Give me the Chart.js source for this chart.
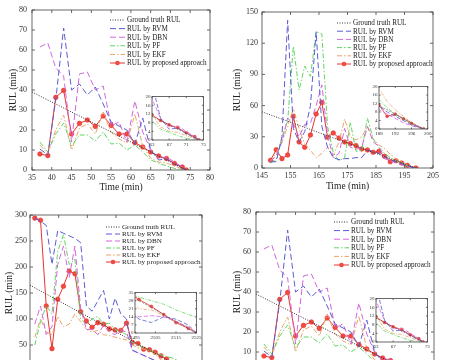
<!DOCTYPE html>
<html>
<head>
<meta charset="utf-8">
<script src="https://cdn.jsdelivr.net/npm/chart.js@4.4.1/dist/chart.umd.min.js"></script>
<style>
html, body { margin: 0; padding: 0; background: #fff; overflow: hidden; }
body { width: 452px; height: 360px; position: relative; }
.box { position: absolute; }
</style>
</head>
<body>
<div class="box" style="left:0;top:0;width:226px;height:196px"><canvas id="chartA"></canvas></div>
<div class="box" style="left:226px;top:0;width:226px;height:196px"><canvas id="chartB"></canvas></div>
<div class="box" style="left:0;top:200px;width:226px;height:196px"><canvas id="chartC"></canvas></div>
<div class="box" style="left:224px;top:202px;width:226px;height:196px"><canvas id="chartD"></canvas></div>
<div class="box" style="left:138px;top:92px;width:70px;height:58px"><canvas id="insetA"></canvas></div>
<div class="box" style="left:365px;top:82px;width:68px;height:57px"><canvas id="insetB"></canvas></div>
<div class="box" style="left:120px;top:288px;width:83px;height:55px"><canvas id="insetC"></canvas></div>
<div class="box" style="left:362px;top:294px;width:70px;height:58px"><canvas id="insetD"></canvas></div>
<script>
// ---- data ----
var labels = ["Ground truth RUL", "RUL by RVM", "RUL by DBN", "RUL by PF", "RUL by EKF", "RUL by proposed approach"];

// case 1 (also shown again bottom right)
var gtTimeA = [35, 74];
var gtA = [39, 0];
var timeA = [37, 39, 41, 43, 45, 47, 49, 51, 53, 55, 57, 59, 61, 63, 65, 67, 69, 71, 73, 74];
var rvmA = [10.5, 7.5, 35, 71, 40, 43, 37.5, 41.5, 33, 24, 22, 20, 13, 26, 10, 5, 5.5, 3, 1, 0];
var dbnA = [61.5, 63.5, 51, 47, 14, 48, 49, 40, 42, 22, 24, 14, 34.5, 19, 10, 6, 6.5, 4, 1.5, 0];
var pfA = [14, 9, 18, 23.5, 12, 17.5, 17.5, 14.5, 19, 13, 13.5, 10, 12.5, 9, 5, 3.5, 2, 0.8, 0, 0];
var ekfA = [12.5, 8, 20, 27.5, 10, 21, 23, 18, 29, 19, 15.5, 13.5, 28, 12, 6, 4, 3.5, 2, 0.5, 0];
var propA = [8, 7.2, 36.3, 39.8, 18, 23.3, 25, 21.8, 27, 22.3, 18, 18, 13.7, 11.5, 9, 7, 5.7, 3.3, 1.5, 0];

// case 2
var gtTimeB = [145, 199];
var gtB = [54, 0];
var timeB = [148, 150, 152, 154, 156, 158, 160, 162, 164, 166, 168, 170, 172, 174, 176, 178, 180, 182, 184, 186, 188, 190, 192, 194, 196, 199];
var rvmB = [6, 6, 30, 142, 38, 25, 35, 60, 131, 40, 20, 10, 8, 9, 9, 10, 10, 17, 16, 14, 11, 8, 6, 4, 2, 0];
var dbnB = [6, 12, 25, 48, 42, 30, 42, 43, 60, 80, 32, 10, 14, 38, 20, 18, 20, 40, 25, 21, 9, 7, 5, 3, 1.5, 0];
var pfB = [5, 8, 30, 45, 117, 75, 98, 88, 131, 129, 40, 15, 7, 10, 44, 16, 17, 48, 28, 20, 14, 10, 7, 5, 2, 0];
var ekfB = [6, 15, 25, 40, 57, 38, 23, 17, 10, 14, 20, 12, 25, 47, 30, 27, 30, 40, 28, 22, 19, 13, 9, 6, 3, 0];
var propB = [7.4, 17.6, 9, 12.5, 49.7, 25, 19.9, 31.7, 51.9, 63.1, 29.5, 33.7, 28.8, 25, 23.4, 21.5, 18.3, 17.3, 15.1, 16, 11.2, 6, 7, 4.8, 2.6, 0];

// case 3
var gtTimeC = [2360, 2525];
var gtC = [165, 0];
var timeC = [2365, 2371, 2377, 2383, 2389, 2395, 2401, 2407, 2413, 2419, 2425, 2431, 2437, 2443, 2449, 2455, 2461, 2467, 2473, 2479, 2485, 2491, 2497, 2503, 2509, 2515, 2521, 2525];
var rvmC = [294, 288, 280, 205, 270, 265, 260, 255, 247, 125, 115, 135, 155, 100, 140, 110, 100, 40, 35, 30, 25, 20, 12, 9, 14, 12, 7, 0];
var dbnC = [90, 125, 70, 85, 205, 240, 180, 240, 120, 80, 80, 70, 88, 75, 70, 78, 75, 40, 35, 30, 25, 20, 14, 15, 14, 10, 5, 0];
var pfC = [50, 95, 125, 110, 230, 262, 205, 215, 100, 90, 100, 105, 90, 92, 80, 75, 70, 55, 50, 45, 40, 35, 31, 28, 25, 20, 16, 14];
var ekfC = [65, 100, 75, 70, 105, 85, 90, 110, 95, 80, 75, 78, 70, 68, 65, 62, 60, 50, 45, 42, 40, 32, 21, 20, 15, 10, 5, 0];
var propC = [294, 290, 125, 43, 138, 163, 192, 187, 114, 96, 84, 93, 90, 81, 79, 78, 92, 55, 53, 42, 41, 36, 29, 23, 16, 9, 4, 0];

var FONT = "'Liberation Serif', 'Times New Roman', serif";
var colors = ["#333333", "#5b5bd6", "#d466dc", "#5fd65f", "#e9a468", "#e8332e"];
var dashes = [[1, 1.5], [6, 3], [6, 3], [5, 2, 1.5, 2], [5, 2, 1.5, 2], []];

function pts(t, v) {
    return t.map(function (x, i) { return { x: x, y: v[i] }; });
}

function makeSets(gtT, gt, t, series, small) {
    var all = [pts(gtT, gt)].concat(series.map(function (s) { return pts(t, s); }));
    return all.map(function (d, i) {
        var isProp = i === 5;
        return {
            label: labels[i],
            data: d,
            borderColor: colors[i],
            backgroundColor: colors[i],
            borderWidth: small ? 0.8 : 1,
            borderDash: small ? dashes[i].map(function (n) { return n * 0.7; }) : dashes[i],
            pointRadius: isProp ? (small ? 1.4 : 2.3) : 0,
            pointBackgroundColor: "#f04a40",
            pointBorderColor: colors[i],
            pointBorderWidth: 0.6,
            tension: 0
        };
    });
}

// frame box, inward tick marks and a legend drawn inside the axes
var framePlugin = {
    id: "frame",
    beforeDraw: function (chart, args, opts) {
        if (!opts.fill) return;
        var a = chart.chartArea, ctx = chart.ctx;
        ctx.save();
        ctx.fillStyle = "#fff";
        ctx.fillRect(a.left, a.top, a.right - a.left, a.bottom - a.top);
        ctx.restore();
    },
    afterDatasetsDraw: function (chart, args, opts) {
        var a = chart.chartArea, ctx = chart.ctx;
        var xs = chart.scales.x, ys = chart.scales.y, L = opts.tick || 3;
        ctx.save();
        ctx.setLineDash([]);
        ctx.strokeStyle = "#444";
        ctx.lineWidth = 0.8;
        ctx.strokeRect(a.left, a.top, a.right - a.left, a.bottom - a.top);
        ctx.beginPath();
        xs.ticks.forEach(function (t) {
            var p = xs.getPixelForValue(t.value);
            ctx.moveTo(p, a.bottom); ctx.lineTo(p, a.bottom - L);
            ctx.moveTo(p, a.top); ctx.lineTo(p, a.top + L);
        });
        ys.ticks.forEach(function (t) {
            var p = ys.getPixelForValue(t.value);
            ctx.moveTo(a.left, p); ctx.lineTo(a.left + L, p);
            ctx.moveTo(a.right, p); ctx.lineTo(a.right - L, p);
        });
        ctx.stroke();
        ctx.restore();
    },
    afterDraw: function (chart, args, opts) {
        var lg = opts.legend;
        if (!lg) return;
        var ctx = chart.ctx;
        ctx.save();
        chart.data.datasets.forEach(function (ds, i) {
            var y = lg.y + i * lg.step;
            ctx.strokeStyle = ds.borderColor;
            ctx.lineWidth = 1;
            ctx.setLineDash(ds.borderDash);
            ctx.beginPath();
            ctx.moveTo(lg.x, y);
            ctx.lineTo(lg.x + lg.len, y);
            ctx.stroke();
            if (ds.pointRadius) {
                ctx.setLineDash([]);
                ctx.fillStyle = ds.pointBackgroundColor;
                ctx.beginPath();
                ctx.arc(lg.x + lg.len / 2, y, ds.pointRadius, 0, Math.PI * 2);
                ctx.fill();
            }
            ctx.fillStyle = "#222";
            ctx.font = lg.size + "px " + FONT;
            ctx.textBaseline = "middle";
            ctx.fillText(ds.label, lg.x + lg.len + 2, y + 0.5);
        });
        ctx.restore();
    }
};

function axis(min, max, step, size, title, titlePad, font, pad, isX) {
    return {
        type: "linear",
        min: min, max: max,
        afterFit: function (s) { if (isX) s.height = size; else s.width = size; },
        grid: { display: false, drawTicks: false },
        border: { display: false },
        ticks: {
            stepSize: step, autoSkip: false, maxRotation: 0, padding: pad,
            color: "#333", font: { family: FONT, size: font },
            callback: function (v) { return v; }
        },
        title: {
            display: !!title, text: title, color: "#222",
            font: { family: FONT, size: 9.5 },
            padding: isX ? { top: 0, bottom: titlePad } : { top: titlePad, bottom: 0 }
        }
    };
}

function mainChart(id, sets, p) {
    new Chart(document.getElementById(id).getContext("2d"), {
        type: "line",
        data: { datasets: sets },
        options: {
            responsive: true, maintainAspectRatio: false, animation: false,
            layout: { padding: { left: 0, top: p.top, right: p.right, bottom: 0 } },
            plugins: { legend: { display: false }, tooltip: { enabled: false }, frame: { tick: 3, legend: p.legend } },
            scales: {
                x: axis(p.x[0], p.x[1], p.x[2], p.xh, "Time (min)", p.xtp, 8, 3, true),
                y: axis(p.y[0], p.y[1], p.y[2], p.yw, "RUL (min)", p.ytp, 8, p.ypad, false)
            }
        },
        plugins: [framePlugin]
    });
}

function insetChart(id, sets, p) {
    new Chart(document.getElementById(id).getContext("2d"), {
        type: "line",
        data: { datasets: sets },
        options: {
            responsive: true, maintainAspectRatio: false, animation: false,
            layout: { padding: { left: 0, top: 3, right: p.right, bottom: 0 } },
            plugins: { legend: { display: false }, tooltip: { enabled: false }, frame: { tick: 1.5, fill: true } },
            scales: {
                x: axis(p.x[0], p.x[1], p.x[2], 10, "", 0, 5, 1.5, true),
                y: axis(p.y[0], p.y[1], p.y[2], p.yw, "", 0, 5, 1.5, false)
            }
        },
        plugins: [framePlugin]
    });
}

var seriesA = [rvmA, dbnA, pfA, ekfA, propA];
var seriesB = [rvmB, dbnB, pfB, ekfB, propB];
var seriesC = [rvmC, dbnC, pfC, ekfC, propC];

var optA = { top: 10, right: 16, xh: 26, yw: 32, ypad: 5, xtp: 3, ytp: 8,
    x: [35, 80, 5], y: [0, 80, 10], legend: { x: 110, y: 20, step: 8.6, len: 15, size: 7.2 } };

mainChart("chartA", makeSets(gtTimeA, gtA, timeA, seriesA, false), optA);
mainChart("chartD", makeSets(gtTimeA, gtA, timeA, seriesA, false), optA);
mainChart("chartB", makeSets(gtTimeB, gtB, timeB, seriesB, false), {
    top: 12, right: 19, xh: 28, yw: 36, ypad: 4, xtp: 4, ytp: 6,
    x: [145, 205, 10], y: [0, 150, 30], legend: { x: 111, y: 23, step: 8.2, len: 14, size: 7.2 } });
mainChart("chartC", makeSets(gtTimeC, gtC, timeC, seriesC, false), {
    top: 15, right: 24, xh: 25, yw: 30, ypad: 3, xtp: 3, ytp: 4,
    x: [2360, 2540, 30], y: [0, 300, 50], legend: { x: 106, y: 27, step: 7, len: 14, size: 7.1 } });

var inA = { right: 4, yw: 14, x: [63, 75, 4], y: [0, 20, 4] };
insetChart("insetA", makeSets(gtTimeA, gtA, timeA, seriesA, true), inA);
insetChart("insetD", makeSets(gtTimeA, gtA, timeA, seriesA, true), inA);
insetChart("insetB", makeSets(gtTimeB, gtB, timeB, seriesB, true), { right: 4, yw: 14, x: [188, 200, 4], y: [0, 20, 4] });
insetChart("insetC", makeSets(gtTimeC, gtC, timeC, seriesC, true), { right: 4, yw: 15, x: [2495, 2525, 10], y: [0, 35, 7] });
</script>
</body>
</html>
